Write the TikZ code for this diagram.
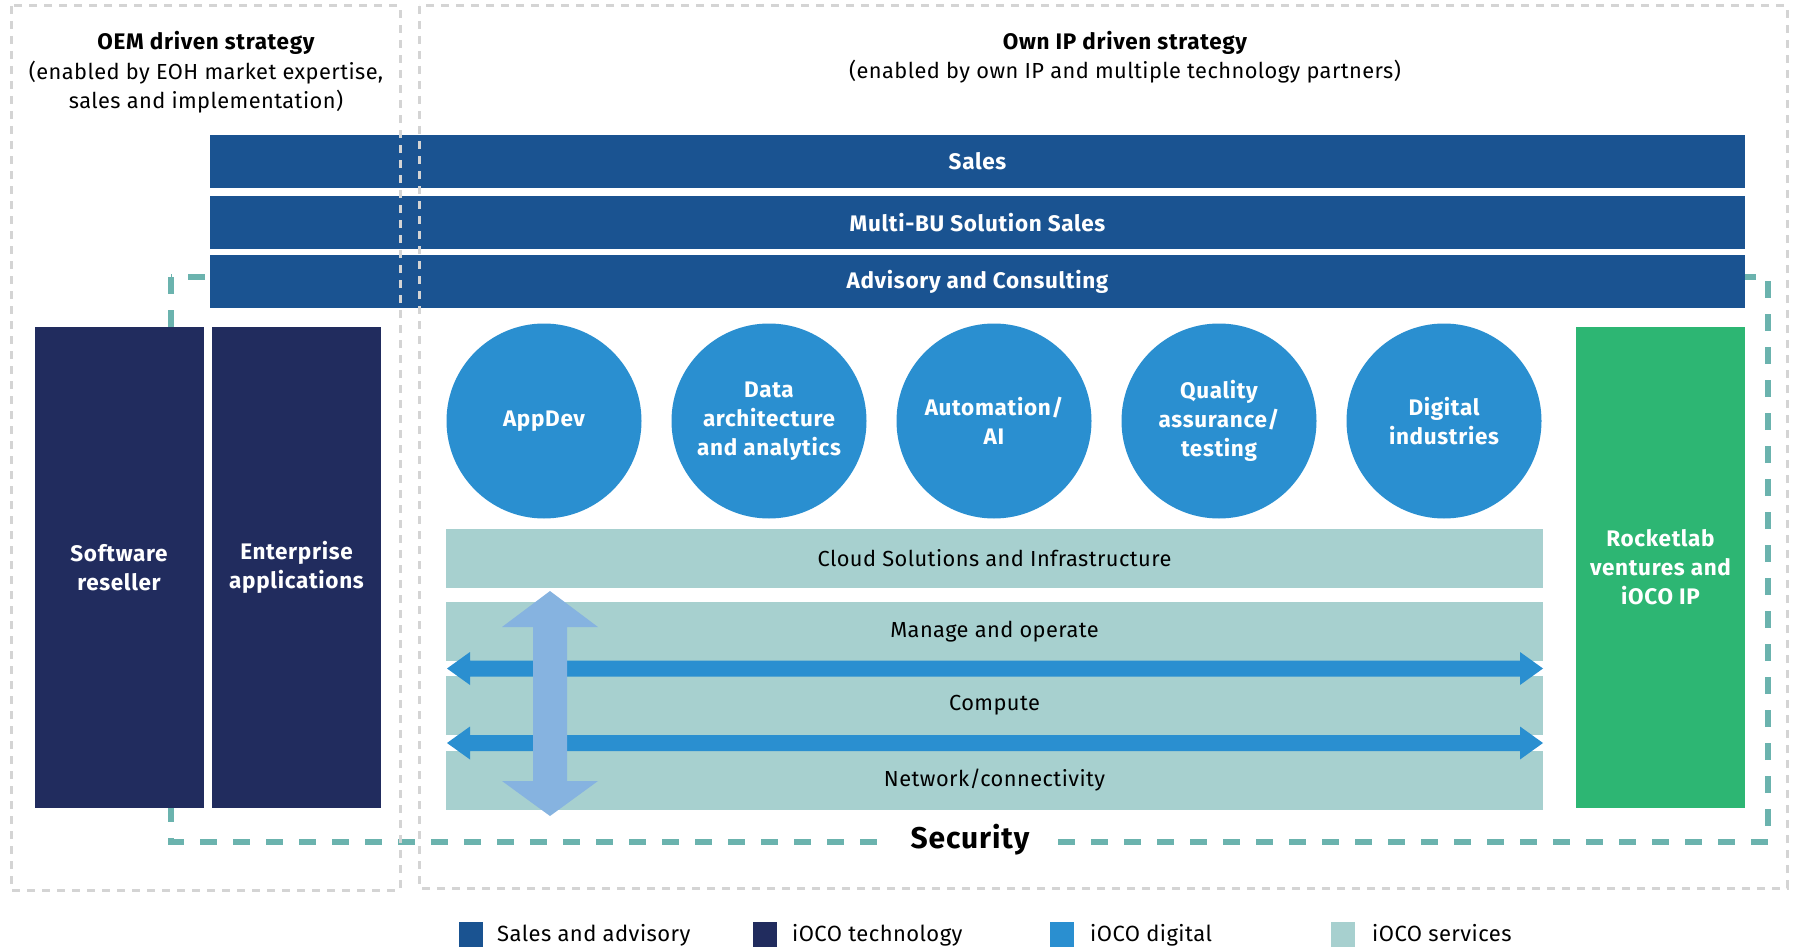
\documentclass[tikz,border=0pt]{standalone}
\usepackage{fontspec}
\setmainfont{Fira Sans}[LetterSpace=2, BoldFeatures={LetterSpace=3}]
\definecolor{salesblue}{HTML}{1A5391}
\definecolor{navy}{HTML}{212C5E}
\definecolor{digblue}{HTML}{2A8FD0}
\definecolor{svcteal}{HTML}{A7D0CF}
\definecolor{rgreen}{HTML}{2DB673}
\definecolor{secteal}{HTML}{6BB3AE}
\definecolor{lightarrow}{HTML}{86B3E0}
\definecolor{greydash}{HTML}{D4D4D4}
\begin{document}
\begin{tikzpicture}[x=1pt,y=-1pt,
  hbar/.style={fill=salesblue, minimum width=1535, minimum height=53, inner sep=0, text=white, font=\bfseries\fontsize{22.5}{26}\selectfont},
  navybox/.style={fill=navy, minimum width=169, minimum height=481, inner sep=0, text=white, align=center, font=\bfseries\fontsize{22.5}{29}\selectfont},
  circ/.style={circle, fill=digblue, minimum size=195, inner sep=0, text=white, align=center, font=\bfseries\fontsize{22.5}{29}\selectfont},
  svcbar/.style={fill=svcteal, minimum width=1097, minimum height=59, inner sep=0, text=black, font=\fontsize{21.8}{26}\selectfont},
  secline/.style={draw=secteal, line width=6, dash pattern=on 17 off 16},
  greybox/.style={draw=greydash, line width=3, dash pattern=on 8 off 7},
  hdr/.style={align=center, inner sep=0, font=\fontsize{21.8}{29}\selectfont},
  legsq/.style={minimum width=24, minimum height=25, inner sep=0, anchor=north west},
  legtxt/.style={anchor=base west, inner sep=0, font=\fontsize{22}{26}\selectfont},
  harrow/.style={fill=digblue},
  varrow/.style={fill=lightarrow}
]
\useasboundingbox (0,0) rectangle (1793,947);

% security dashed frame (behind)
\draw[secline] (171,277) rectangle (1768,842);

% top bars
\node[hbar] (sales) at (977.5,161.5) {Sales};
\node[hbar] (multi) at (977.5,222.5) {Multi-BU Solution Sales};
\node[hbar] (adv) at (977.5,281.5) {Advisory and Consulting};

% navy columns
\node[navybox] (soft) at (119,567.5) {Software\\reseller};
\node[navybox] (ent) at (296.5,567.5) {Enterprise\\applications};

% green column
\node[navybox, fill=rgreen] (rock) at (1660.5,567.5) {Rocketlab\\ventures and\\iOCO IP};

% circles
\node[circ] (appdev) at (544,421) {AppDev};
\node[circ] (data) at (769,421) {Data\\architecture\\and analytics};
\node[circ] (auto) at (994,421) {Automation/\\AI};
\node[circ] (qa) at (1219,421) {Quality\\assurance/\\testing};
\node[circ] (dig) at (1444,421) {Digital\\industries};

% service bars
\node[svcbar] (cloud) at (994.5,558.5) {Cloud Solutions and Infrastructure};
\node[svcbar] (manage) at (994.5,631.5) {Manage and operate};
\node[svcbar] (compute) at (994.5,705.5) {Compute};
\node[svcbar] (network) at (994.5,780) {Network/connectivity};

% horizontal double arrows
\foreach \yy in {668.5,743} {
  \fill[harrow] (447,\yy) -- (470,\yy-16.5) -- (470,\yy-8) -- (1520,\yy-8) -- (1520,\yy-16.5)
     -- (1543,\yy) -- (1520,\yy+16.5) -- (1520,\yy+8) -- (470,\yy+8) -- (470,\yy+16.5) -- cycle;
}
% vertical double arrow
\fill[varrow] (550,591) -- (598,627) -- (567,627) -- (567,781) -- (598,781) -- (550,816)
   -- (502,781) -- (533,781) -- (533,627) -- (502,627) -- cycle;

% security label
\node[fill=white, inner xsep=26, inner ysep=4, font=\bfseries\fontsize{30}{34}\selectfont] (sec) at (970,840) {Security};

% grey strategy frames
\draw[greybox] (11,6) rectangle (400,890);
\draw[greybox] (419,6) rectangle (1787,888);

% headers
\node[hdr, font=\bfseries\fontsize{22.5}{29}\selectfont] (oemt) at (206,43) {OEM driven strategy};
\node[hdr] (oems) at (206,87) {(enabled by EOH market expertise,\\sales and implementation)};
\node[hdr, font=\bfseries\fontsize{22.5}{29}\selectfont] (ownt) at (1125,43) {Own IP driven strategy};
\node[hdr] (owns) at (1125,72) {(enabled by own IP and multiple technology partners)};

% legend
\node[legsq, fill=salesblue] (l1) at (459,922) {};
\node[legtxt] (t1) at (497,941) {Sales and advisory};
\node[legsq, fill=navy] (l2) at (753,922) {};
\node[legtxt] (t2) at (792,941) {iOCO technology};
\node[legsq, fill=digblue] (l3) at (1050,922) {};
\node[legtxt] (t3) at (1090,941) {iOCO digital};
\node[legsq, fill=svcteal] (l4) at (1331,922) {};
\node[legtxt] (t4) at (1372,941) {iOCO services};
\end{tikzpicture}
\end{document}
